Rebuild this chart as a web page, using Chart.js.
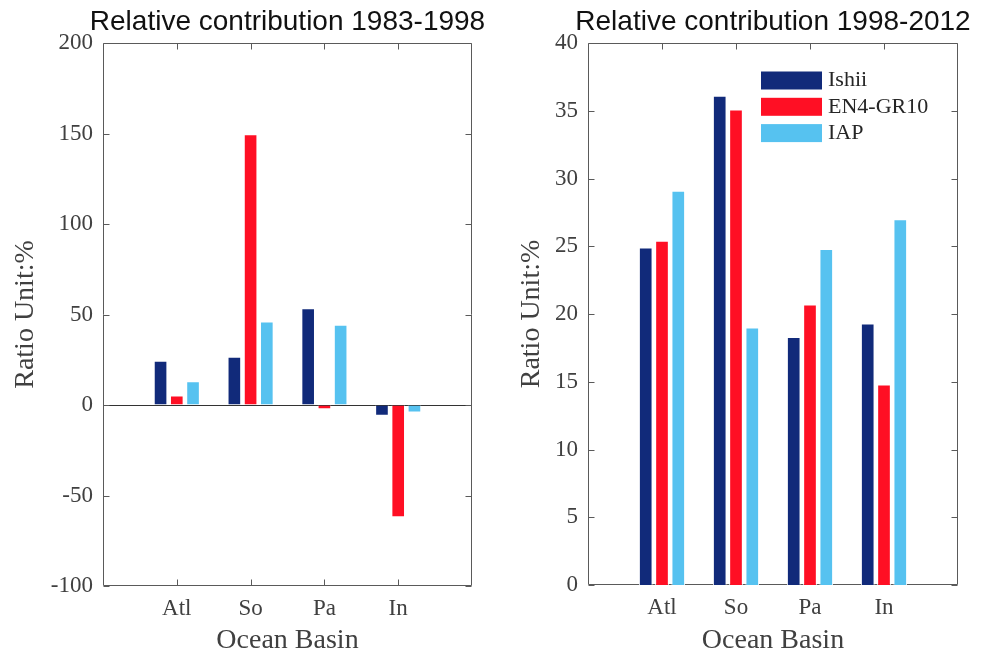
<!DOCTYPE html>
<html>
<head>
<meta charset="utf-8">
<script src="https://cdn.jsdelivr.net/npm/chart.js@4.4.1/dist/chart.umd.min.js"></script>
<style>
  html, body { margin: 0; padding: 0; background: #fff; overflow: hidden; }
  #wrap { position: relative; width: 987px; height: 658px; overflow: hidden; }
  canvas { position: absolute; top: 0; }
  #left { left: 0; }
  #right { left: 515px; }
</style>
</head>
<body>
<div id="wrap">
  <canvas id="left" width="575" height="658"></canvas>
  <canvas id="right" width="516" height="658"></canvas>
</div>
<script>
const basins = ['Atl', 'So', 'Pa', 'In'];
const seriesNames = ['Ishii', 'EN4-GR10', 'IAP'];
const seriesColors = ['#112a7a', '#ff0f24', '#56c2f0'];

// 1983-1998
const ishiiEarly = [24.5, 26.7, 53.4, -5.9];
const en4Early = [5.2, 149.6, -2.4, -62];
const iapEarly = [13.1, 46.2, 44.4, -4.2];
const earlyTicks = [-100, -50, 0, 50, 100, 150, 200];

// 1998-2012
const ishiiLate = [24.9, 36.1, 18.3, 19.3];
const en4Late = [25.4, 35.1, 20.7, 14.8];
const iapLate = [29.1, 19.0, 24.8, 27.0];
const lateTicks = [0, 5, 10, 15, 20, 25, 30, 35, 40];

const serif = '"Liberation Serif", "Times New Roman", serif';
const textColor = '#404040';

// MATLAB style box with inward ticks
const boxPlugin = {
  id: 'box',
  beforeDatasetsDraw(chart) {
    const { ctx, chartArea: a, scales } = chart;
    const x = scales.x, y = scales.y;
    const L = Math.round(a.left) + 0.5, R = Math.round(a.right) - 0.5;
    const T = Math.round(a.top) + 0.5, B = Math.round(a.bottom) - 0.5;
    ctx.save();
    ctx.strokeStyle = '#5a5a5a';
    ctx.lineWidth = 1;
    ctx.beginPath();
    ctx.rect(L, T, R - L, B - T);
    y.ticks.forEach(t => {
      const py = Math.round(y.getPixelForValue(t.value)) + 0.5;
      ctx.moveTo(L, py); ctx.lineTo(L + 6, py);
      ctx.moveTo(R, py); ctx.lineTo(R - 6, py);
    });
    x.ticks.forEach((t, i) => {
      if (!x.getLabelForValue(t.value)) return;
      const px = Math.round(x.getPixelForTick(i)) + 0.5;
      ctx.moveTo(px, T); ctx.lineTo(px, T + 6);
      ctx.moveTo(px, B); ctx.lineTo(px, B - 6);
    });
    ctx.stroke();
    ctx.restore();
  }
};

const innerLegend = {
  id: 'innerLegend',
  afterDatasetsDraw(chart, args, opts) {
    if (!opts.show) return;
    const { ctx, chartArea: a } = chart;
    ctx.save();
    ctx.font = '22px ' + serif;
    ctx.textBaseline = 'middle';
    ctx.textAlign = 'left';
    chart.data.datasets.forEach((ds, i) => {
      const cy = a.top + opts.top + i * opts.gap;
      const bx = a.left + opts.left;
      ctx.fillStyle = ds.backgroundColor;
      ctx.fillRect(bx, cy - 9, 61, 18);
      ctx.fillStyle = '#262626';
      ctx.fillText(ds.label, bx + 67, cy);
    });
    ctx.restore();
  }
};

function pad(vals) {
  return [null, ...vals, null];
}

function makeChart(id, title, series, ticks, sideWidth, bottomHeight, yTitlePad, showLegend) {
  const showZero = ticks[0] < 0;
  return new Chart(document.getElementById(id), {
    type: 'bar',
    data: {
      labels: pad(basins).map(v => v || ''),
      datasets: series.map((vals, i) => ({
        label: seriesNames[i],
        data: pad(vals),
        backgroundColor: seriesColors[i],
        borderColor: '#ffffff',
        borderWidth: 1,
        borderSkipped: 'start',
        categoryPercentage: 0.66,
        barPercentage: 0.84
      }))
    },
    options: {
      responsive: false,
      animation: false,
      layout: { padding: 0 },
      plugins: {
        legend: { display: false },
        tooltip: { enabled: false },
        title: {
          display: true,
          text: title,
          color: '#111',
          font: { family: '"Liberation Sans", Arial, sans-serif', size: 28, weight: 'normal' },
          padding: { top: 5.5, bottom: 3.9 }
        },
        innerLegend: { show: showLegend, left: 173, top: 37.5, gap: 26.3 }
      },
      scales: {
        x: {
          offset: false,
          grid: { display: false, drawTicks: false, offset: false },
          border: { display: false },
          ticks: { color: textColor, font: { family: serif, size: 23 }, padding: 9.4, autoSkip: false, maxRotation: 0 },
          title: { display: true, text: 'Ocean Basin', color: textColor, font: { family: serif, size: 28 }, padding: { top: 0, bottom: 0.7 } },
          afterFit: s => { s.height = bottomHeight; }
        },
        y: {
          min: ticks[0],
          max: ticks[ticks.length - 1],
          grid: {
            display: showZero,
            drawTicks: false,
            color: c => (c.tick && c.tick.value === 0) ? '#333' : 'rgba(0,0,0,0)'
          },
          border: { display: false },
          ticks: { stepSize: ticks[1] - ticks[0], color: textColor, font: { family: serif, size: 23 }, padding: 10 },
          title: { display: true, text: 'Ratio Unit:%', color: textColor, font: { family: serif, size: 28 }, padding: { top: yTitlePad, bottom: 0 } },
          afterFit: s => { s.width = sideWidth; }
        },
        yR: {
          type: 'linear',
          position: 'right',
          grid: { display: false, drawTicks: false },
          border: { display: false },
          ticks: { display: false },
          afterFit: s => { s.width = sideWidth; }
        }
      }
    },
    plugins: [boxPlugin, innerLegend]
  });
}

makeChart('left', 'Relative contribution 1983-1998', [ishiiEarly, en4Early, iapEarly], earlyTicks, 103, 72, 8.7, false);
makeChart('right', 'Relative contribution 1998-2012', [ishiiLate, en4Late, iapLate], lateTicks, 73, 73, 0, true);
</script>
</body>
</html>
